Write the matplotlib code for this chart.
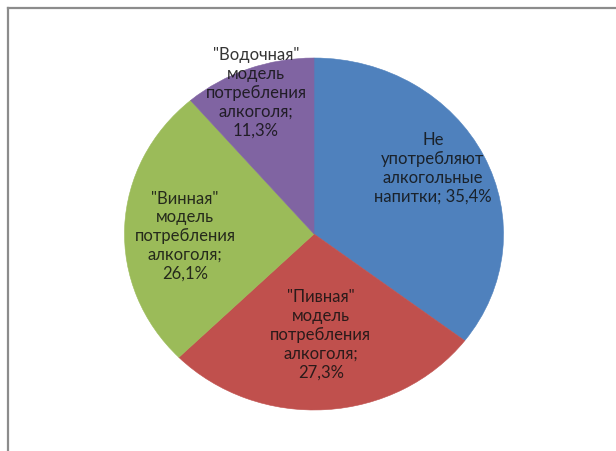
import matplotlib
matplotlib.use("Agg")
import matplotlib.pyplot as plt
from matplotlib.lines import Line2D
import numpy as np

categories = ["Не\nупотребляют\nалкогольные\nнапитки", "\"Пивная\"\nмодель\nпотребления\nалкоголя",
              "\"Винная\"\nмодель\nпотребления\nалкоголя", "\"Водочная\"\nмодель\nпотребления\nалкоголя"]
values = [35.4, 27.3, 26.1, 11.3]
value_labels = ["35,4%", "27,3%", "26,1%", "11,3%"]
colors = ["#4F81BD", "#C0504D", "#9BBB59", "#8064A2"]

plt.rcParams['font.family'] = ['Lato', 'DejaVu Sans']

fig = plt.figure(figsize=(6.16, 4.51), dpi=100)
ax = fig.add_axes([124.5 / 616, 41 / 451, 379 / 616, 352 / 451])

wedges, _ = ax.pie(values, colors=colors, startangle=90, counterclock=False,
                   radius=1.0, wedgeprops=dict(linewidth=0.4, edgecolor='none'))
for w, c in zip(wedges, colors):
    w.set_edgecolor(c)

ax.set_aspect('auto')
ax.set_xlim(-1, 1)
ax.set_ylim(-1, 1)
ax.axis('off')

# label placement (pie units): radial distance and angle offset per wedge
dists = [0.73, 0.575, 0.68, 0.86]
ang_adj = [4.5, 0, 3.5, 0.5]
for w, cat, vl, d, a in zip(wedges, categories, value_labels, dists, ang_adj):
    mid = np.deg2rad((w.theta1 + w.theta2) / 2 + a)
    x, y = d * np.cos(mid), d * np.sin(mid)
    if cat.startswith("Не"):
        txt = cat + "; " + vl
    else:
        txt = cat + ";\n" + vl
    ax.text(x, y, txt, ha='center', va='center', fontsize=12, color='#111111',
            alpha=0.85, linespacing=1.22, clip_on=False)

# frame lines (partial border)
fig.add_artist(Line2D([7.5 / 616, 7.5 / 616], [0, 1 - 8 / 451], transform=fig.transFigure,
                      color='#8c8c8c', linewidth=1.6))
fig.add_artist(Line2D([7.5 / 616, 1], [1 - 8 / 451, 1 - 8 / 451], transform=fig.transFigure,
                      color='#8c8c8c', linewidth=1.6))

fig.savefig("out.png", dpi=100)
